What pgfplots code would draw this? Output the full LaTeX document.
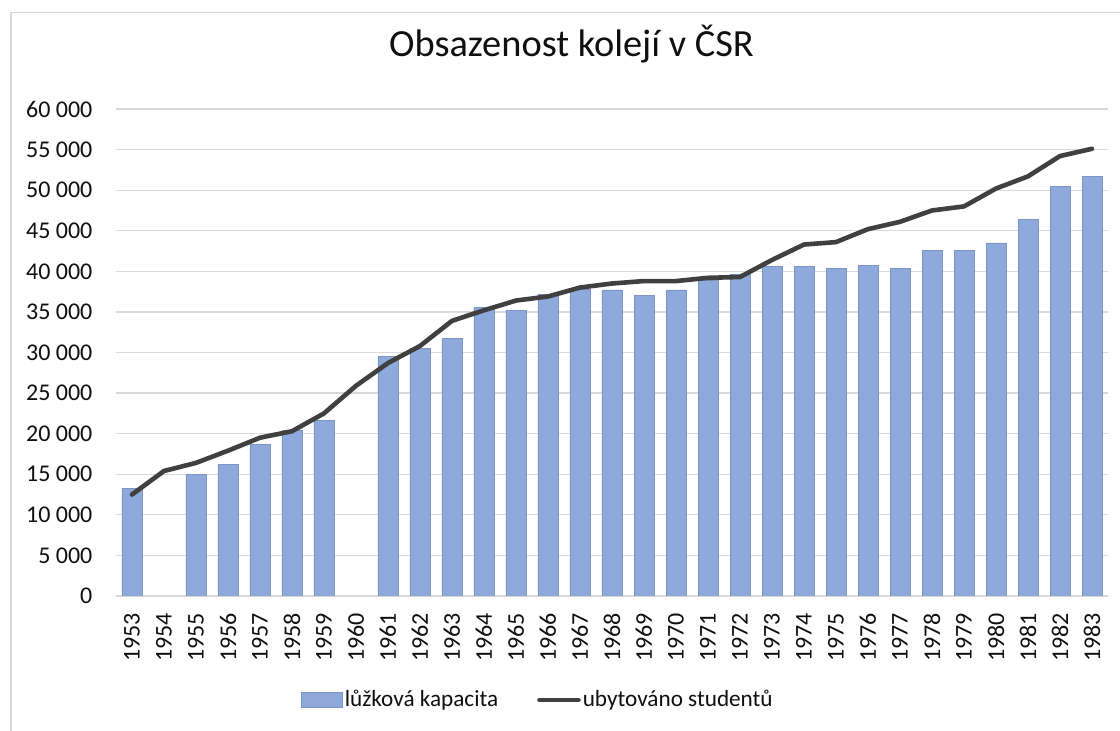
\documentclass[border=0pt]{standalone}
\usepackage{fontspec}
\setmainfont{Carlito}
\usepackage{pgfplots}
\pgfplotsset{compat=1.18}
\definecolor{barfill}{RGB}{142,169,219}
\definecolor{baredge}{RGB}{125,148,192}
\definecolor{linec}{RGB}{64,64,64}
\definecolor{gridc}{RGB}{217,217,217}
\definecolor{txt}{RGB}{15,15,15}
\begin{document}
\begin{tikzpicture}
\useasboundingbox (-58pt,-67.5pt) rectangle (502pt,298pt);
\begin{axis}[
  at={(0pt,0pt)}, anchor=south west,
  scale only axis,
  width=496pt, height=243.5pt,
  xmin=1952.5, xmax=1983.5,
  ymin=0, ymax=60000,
  ytick={0,5000,...,60000},
  xtick={1953,...,1983},
  scaled y ticks=false,
  ymajorgrids,
  grid style={draw=gridc, line width=0.6pt},
  axis line style={draw=none},
  major tick length=0pt,
  tick label style={font=\fontsize{12pt}{14pt}\selectfont, text=txt, /pgf/number format/assume math mode=true},
  yticklabel style={anchor=east, inner sep=0pt, /pgf/number format/1000 sep={\ }, /pgf/number format/fixed},
  yticklabel shift=11.6pt,
  xticklabel style={rotate=90, anchor=east, inner sep=0pt, /pgf/number format/1000 sep={}},
  xticklabel shift=8.3pt,
  title={Obsazenost kolejí v ČSR},
  title style={at={(0.4592,1.0836)}, anchor=base, font=\fontsize{19.2pt}{22pt}\selectfont, text=txt, inner sep=0pt},
  legend columns=2,
  legend style={at={(0.1865,-0.2136)}, anchor=west, draw=none, fill=none, inner sep=0pt, outer sep=0pt,
    font=\fontsize{11.6pt}{13pt}\selectfont, text=txt,
    nodes={inner sep=1pt},
    /tikz/every even column/.append style={column sep=18.5pt}},
]
\addplot[ybar, bar width=10pt, fill=barfill, draw=baredge, line width=0.4pt,
  legend image code/.code={\draw[fill=barfill, draw=baredge, line width=0.4pt] (0pt,-3.75pt) rectangle (20.5pt,3.75pt);}]
coordinates {
(1953,13300) (1955,15000) (1956,16200) (1957,18700) (1958,20400) (1959,21600)
(1961,29500) (1962,30500) (1963,31700) (1964,35600) (1965,35200) (1966,37200)
(1967,37800) (1968,37700) (1969,37000) (1970,37700) (1971,38900) (1972,39600)
(1973,40600) (1974,40600) (1975,40400) (1976,40700) (1977,40400) (1978,42600)
(1979,42600) (1980,43500) (1981,46400) (1982,50500) (1983,51700)
};
\addlegendentry{lůžková kapacita}
\addplot[linec, line width=2.3pt, line join=round, line cap=round, mark=none,
  legend image code/.code={\draw[linec, line width=2.3pt, line cap=round] (0.5pt,0pt) -- (20pt,0pt);}]
coordinates {
(1953,12500) (1954,15400) (1955,16400) (1956,17900) (1957,19500) (1958,20300)
(1959,22500) (1960,25900) (1961,28700) (1962,30800) (1963,33900) (1964,35200)
(1965,36400) (1966,36900) (1967,38000) (1968,38500) (1969,38800) (1970,38800)
(1971,39200) (1972,39300) (1973,41400) (1974,43300) (1975,43600) (1976,45200)
(1977,46100) (1978,47500) (1979,48000) (1980,50200) (1981,51700) (1982,54200)
(1983,55100)
};
\addlegendentry{ubytováno studentů}
\end{axis}
\draw[gridc, line width=0.6pt] (-52.5pt,-67.5pt) -- (-52.5pt,291.65pt) -- (502pt,291.65pt);
\end{tikzpicture}
\end{document}
